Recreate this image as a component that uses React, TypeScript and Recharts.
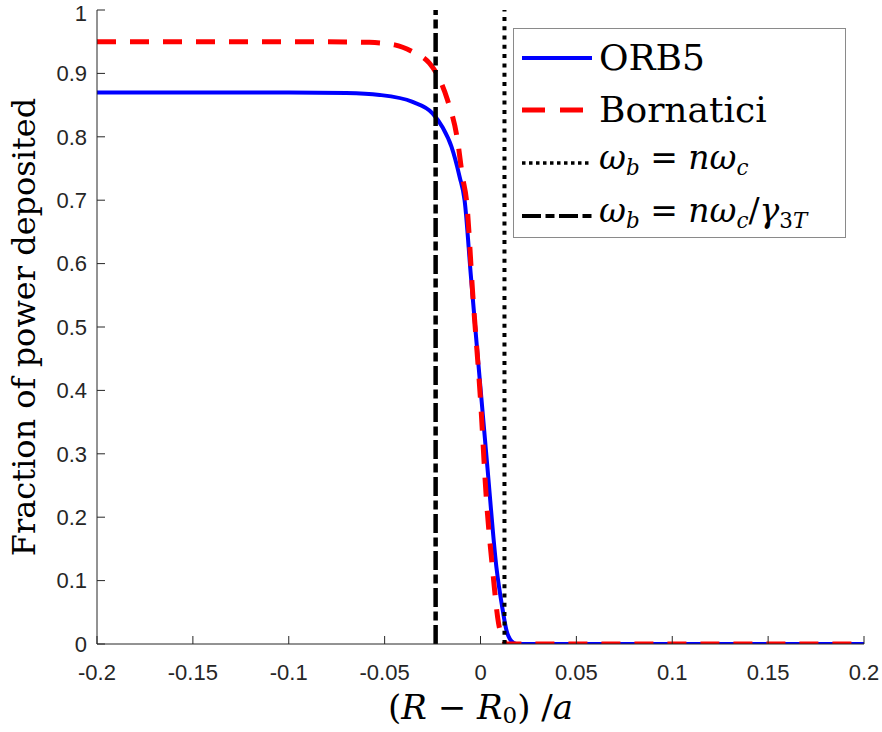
import React from "react";
import { LineChart, Line, XAxis, YAxis, ReferenceLine } from "recharts";

// ORB5 series
const orb5X = [-0.2, -0.15, -0.1, -0.07, -0.0526, -0.0354, -0.025, -0.0198, -0.0151, -0.0109, -0.0083, -0.005, -0.0016, 0.0036, 0.0083, 0.0115, 0.0135, 0.016, 0.0188, 0.05, 0.1, 0.15, 0.2];
const orb5Y = [0.87, 0.87, 0.87, 0.869, 0.866, 0.855, 0.837, 0.815, 0.784, 0.737, 0.7, 0.58, 0.459, 0.279, 0.121, 0.055, 0.022, 0.005, 0, 0, 0, 0, 0];

// Bornatici series
const bornX = [-0.2, -0.15, -0.1, -0.07, -0.058, -0.0448, -0.0354, -0.0266, -0.0224, -0.0172, -0.012, -0.0094, -0.0073, -0.004, 0.0, 0.0031, 0.0062, 0.0094, 0.0115, 0.0135, 0.05, 0.1, 0.15, 0.2];
const bornY = [0.95, 0.95, 0.95, 0.9495, 0.949, 0.945, 0.934, 0.916, 0.897, 0.858, 0.795, 0.737, 0.7, 0.55, 0.385, 0.227, 0.121, 0.033, 0.01, 0, 0, 0, 0, 0];

// Vertical markers
const resonanceX = 0.0125; // omega_b = n omega_c
const relativisticX = -0.0234; // omega_b = n omega_c / gamma_3T

const xTicks = [-0.2, -0.15, -0.1, -0.05, 0, 0.05, 0.1, 0.15, 0.2];
const yTicks = [0, 0.1, 0.2, 0.3, 0.4, 0.5, 0.6, 0.7, 0.8, 0.9, 1];

const seriesNames = ["ORB5", "Bornatici"];
const yTitle = "Fraction of power deposited";

const orb5Data = orb5X.map((x, i) => ({ x, y: orb5Y[i] }));
const bornData = bornX.map((x, i) => ({ x, y: bornY[i] }));

const AX = "#262626";
const SERIF = "'DejaVu Serif', serif";
const SANS = "'Liberation Sans', Arial, sans-serif";
const DASHDOT = "19 4.5 9 4.5";

const YLabel = (props: any) => {
  const vb = props.viewBox || { x: 0, y: 10, width: 97, height: 634 };
  const cx = vb.x + 24;
  const cy = vb.y + vb.height / 2;
  return (
    <text
      x={cx}
      y={cy}
      transform={`rotate(-90 ${cx} ${cy})`}
      textAnchor="middle"
      dominantBaseline="central"
      fontFamily={SERIF}
      fontSize={32}
      fill="#000"
    >
      {yTitle}
    </text>
  );
};

const XLabel = (props: any) => {
  const vb = props.viewBox || { x: 97, y: 644, width: 768, height: 88 };
  const cx = vb.x + vb.width / 2;
  const cy = vb.y + 63;
  return (
    <text
      x={cx}
      y={cy}
      textAnchor="middle"
      dominantBaseline="central"
      fontFamily={SERIF}
      fontSize={34}
      fill="#000"
    >
      <tspan>(</tspan>
      <tspan fontStyle="italic">R</tspan>
      <tspan> − </tspan>
      <tspan fontStyle="italic">R</tspan>
      <tspan fontSize={23} dy={8}>0</tspan>
      <tspan dy={-8}>)</tspan>
      <tspan> /</tspan>
      <tspan fontStyle="italic">a</tspan>
    </text>
  );
};

const LegendBox = () => {
  const row: React.CSSProperties = {
    display: "flex",
    alignItems: "center",
    height: 52,
    whiteSpace: "nowrap",
  };
  const txt: React.CSSProperties = {
    fontFamily: SERIF,
    fontSize: 36,
    color: "#000",
    marginLeft: 7,
    lineHeight: "40px",
  };
  const math: React.CSSProperties = { ...txt, fontSize: 33 };
  const sub: React.CSSProperties = { fontSize: "0.65em", verticalAlign: "-0.3em" };
  const sample = (stroke: string, w: number, dash?: string) => (
    <svg width={70} height={12} style={{ display: "block" }}>
      <line x1={0} y1={6} x2={70} y2={6} stroke={stroke} strokeWidth={w} strokeDasharray={dash} />
    </svg>
  );
  return (
    <div
      style={{
        position: "absolute",
        left: 513,
        top: 28,
        width: 333,
        height: 210,
        border: "1px solid #8a8a8a",
        background: "#fff",
        boxSizing: "border-box",
        paddingLeft: 8,
        paddingTop: 3,
      }}
    >
      <div style={row}>
        {sample("#0000ff", 4)}
        <span style={txt}>{seriesNames[0]}</span>
      </div>
      <div style={row}>
        {sample("#ff0000", 5, "23 15")}
        <span style={txt}>{seriesNames[1]}</span>
      </div>
      <div style={{ ...row, height: 54 }}>
        {sample("#000", 3.5, "3.5 3.5")}
        <span style={math}>
          <i>ω</i>
          <i style={sub}>b</i> = <i>nω</i>
          <i style={sub}>c</i>
        </span>
      </div>
      <div style={row}>
        {sample("#000", 4, DASHDOT)}
        <span style={math}>
          <i>ω</i>
          <i style={sub}>b</i> = <i>nω</i>
          <i style={sub}>c</i>/<i>γ</i>
          <span style={sub}>3<i>T</i></span>
        </span>
      </div>
    </div>
  );
};

export default function App() {
  return (
    <div style={{ position: "absolute", left: 0, top: 0, width: 882, height: 732, background: "#fff" }}>
      <LineChart width={882} height={732} margin={{ top: 10, right: 18, bottom: 0, left: 0 }}>
        <XAxis
          type="number"
          dataKey="x"
          domain={[-0.2, 0.2]}
          ticks={xTicks}
          allowDataOverflow
          height={88}
          tickSize={-8}
          tickMargin={28}
          tickFormatter={(v: number) => String(v)}
          tick={{ fill: AX, fontSize: 22, fontFamily: SANS }}
          stroke={AX}
          axisLine={{ stroke: AX, strokeWidth: 1 }}
          tickLine={{ stroke: AX, strokeWidth: 1 }}
          label={<XLabel />}
        />
        <YAxis
          type="number"
          dataKey="y"
          domain={[0, 1]}
          ticks={yTicks}
          allowDataOverflow
          width={97}
          tickSize={-8}
          tickMargin={18}
          tickFormatter={(v: number) => String(v)}
          tick={{ fill: AX, fontSize: 22, fontFamily: SANS }}
          stroke={AX}
          axisLine={{ stroke: AX, strokeWidth: 1 }}
          tickLine={{ stroke: AX, strokeWidth: 1 }}
          label={<YLabel />}
        />
        <Line
          data={orb5Data}
          dataKey="y"
          type="monotone"
          stroke="#0000ff"
          strokeWidth={4}
          dot={false}
          activeDot={false}
          isAnimationActive={false}
        />
        <Line
          data={bornData}
          dataKey="y"
          type="monotone"
          stroke="#ff0000"
          strokeWidth={5}
          strokeDasharray="19 14"
          dot={false}
          activeDot={false}
          isAnimationActive={false}
        />
        <ReferenceLine x={relativisticX} stroke="#000" strokeWidth={4.5} strokeDasharray={DASHDOT} />
        <ReferenceLine x={resonanceX} stroke="#000" strokeWidth={4} strokeDasharray="4 5.3" />
      </LineChart>
      <LegendBox />
    </div>
  );
}
